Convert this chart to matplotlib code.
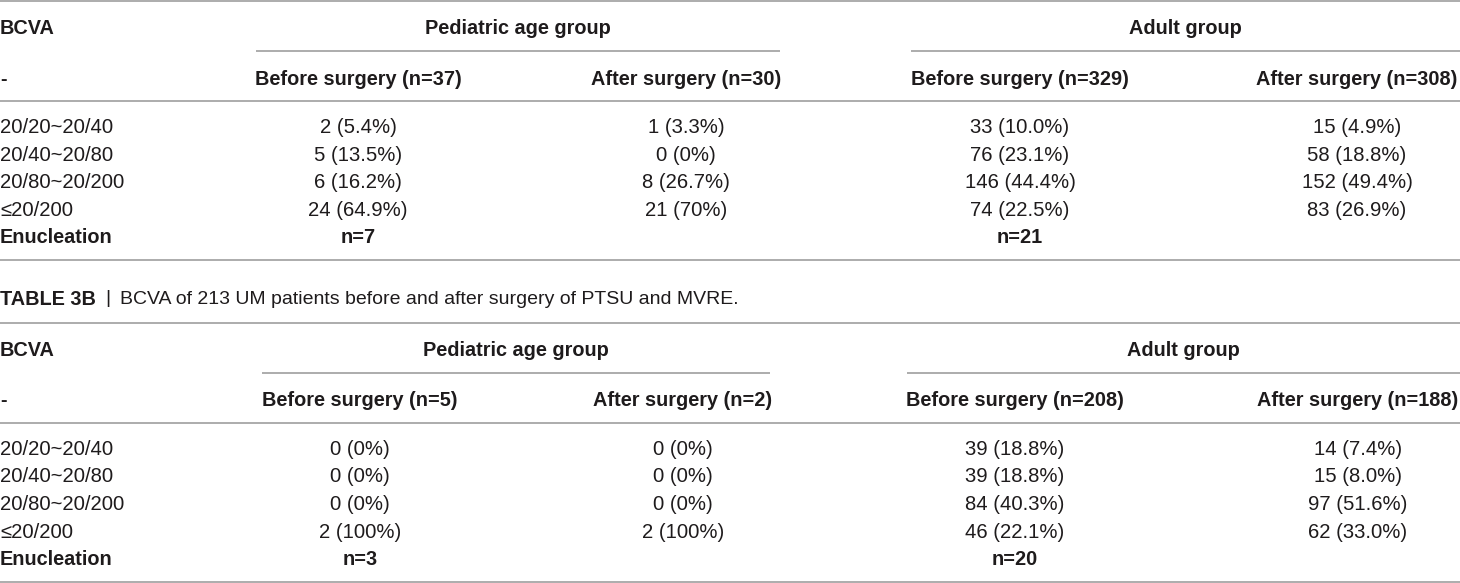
import matplotlib
matplotlib.use("Agg")
import matplotlib.pyplot as plt

plt.rcParams['font.family'] = ['Liberation Sans', 'DejaVu Sans']

# table contents
bcva_levels = ["20/20~20/40", "20/40~20/80", "20/80~20/200", "\u226420/200"]
groups = ["Pediatric age group", "Adult group"]

# TABLE 3A
a_n = [37, 30, 329, 308]
a_counts = [
    [2, 5, 6, 24],
    [1, 0, 8, 21],
    [33, 76, 146, 74],
    [15, 58, 152, 83],
]
a_pct = [
    ["5.4", "13.5", "16.2", "64.9"],
    ["3.3", "0", "26.7", "70"],
    ["10.0", "23.1", "44.4", "22.5"],
    ["4.9", "18.8", "49.4", "26.9"],
]
a_enuc = [7, 21]

# TABLE 3B
b_n = [5, 2, 208, 188]
b_counts = [
    [0, 0, 0, 2],
    [0, 0, 0, 2],
    [39, 39, 84, 46],
    [14, 15, 97, 62],
]
b_pct = [
    ["0", "0", "0", "100"],
    ["0", "0", "0", "100"],
    ["18.8", "18.8", "40.3", "22.1"],
    ["7.4", "8.0", "51.6", "33.0"],
]
b_enuc = [3, 20]

caption_b = "BCVA of 213 UM patients before and after surgery of PTSU and MVRE."

TXT = "#1e1b1c"
LINE = "#a6a6a6"
FS = 14.6
FS_B = 14.3
DY = 1.5  # text centre sits a bit low in the row


def hline(y, x0=0, x1=1460):
    ax.plot([x0, x1], [y, y], color=LINE, lw=1.3, solid_capstyle="butt")


def cell(x, y, s, ha="center", bold=False, size=None):
    if size is None:
        size = FS_B if bold else FS
    ax.text(x, y + DY, s, fontsize=size, weight="bold" if bold else "normal",
            color=TXT, ha=ha, va="center")


def draw_table(top, ns, counts, pct, enuc, col_x, grp_x, under):
    hline(top)
    cell(0, top + 26, "BCVA", ha="left", bold=True)
    for g, gx, (u0, u1) in zip(groups, grp_x, under):
        cell(gx, top + 26, g, bold=True)
        hline(top + 50.5, u0, u1)
    cell(0, top + 77, "-", ha="left", bold=True)
    for i, n in enumerate(ns):
        lab = ("Before" if i % 2 == 0 else "After") + " surgery (n=%d)" % n
        cell(col_x[i], top + 77, lab, bold=True)
    hline(top + 100)
    row_y = [top + 125.5, top + 153, top + 180.5, top + 208]
    for r, (lev, y) in enumerate(zip(bcva_levels, row_y)):
        cell(0, y, lev, ha="left")
        for c in range(4):
            cell(col_x[c], y, "%d (%s%%)" % (counts[c][r], pct[c][r]))
    cell(0, top + 235.5, "Enucleation", ha="left", bold=True)
    for e, c in zip(enuc, [0, 2]):
        cell(col_x[c], top + 235.5, "n=%d" % e, bold=True)
    hline(top + 259)


fig = plt.figure(figsize=(14.6, 5.83), dpi=100)
ax = fig.add_axes([0, 0, 1, 1])
ax.set_xlim(0, 1460)
ax.set_ylim(583, 0)
ax.axis("off")

draw_table(0.7, a_n, a_counts, a_pct, a_enuc,
           [358, 686, 1020, 1357], [518, 1185], [(256, 780), (911, 1460)])

cell(0, 298, "TABLE 3B", ha="left", bold=True)
cell(108, 297, "|", size=14.0)
cell(120, 298, caption_b, ha="left", size=14.0)

draw_table(322.5, b_n, b_counts, b_pct, b_enuc,
           [360, 683, 1015, 1358], [516, 1183], [(262, 770), (907, 1460)])

fig.savefig("out.png", dpi=100)
